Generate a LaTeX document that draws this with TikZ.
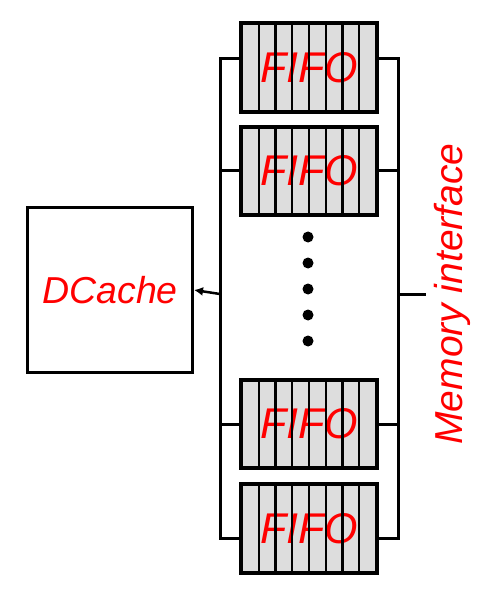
\documentclass[tikz,border=0pt]{standalone}
\usepackage{fontspec}
\setmainfont{Liberation Sans}
\usetikzlibrary{arrows.meta}

\definecolor{fifogray}{HTML}{DDDDDD}
\definecolor{labelred}{HTML}{FF0000}

\tikzset{
	fifo/.style={draw, line width=2.8pt, fill=fifogray, minimum width=134pt, minimum height=87pt, inner sep=0pt,
		text=labelred, font=\itshape\fontsize{43}{43}\selectfont},
	cell/.style={line width=2.2pt},
	wire/.style={line width=3pt},
}

\begin{document}
\begin{tikzpicture}[x=1pt, y=-1pt]
	\useasboundingbox (0,0) rectangle (484,609);
	\node[fifo] (f1) at (309, 67.5) {FIFO};
	\node[fifo] (f2) at (309, 171) {FIFO};
	\node[fifo] (f3) at (309, 424) {FIFO};
	\node[fifo] (f4) at (309, 528.5) {FIFO};
		\draw[cell] (258.75,24) -- (258.75,111) (275.5,24) -- (275.5,111) (292.25,24) -- (292.25,111) (309,24) -- (309,111)
			(325.75,24) -- (325.75,111) (342.5,24) -- (342.5,111) (359.25,24) -- (359.25,111);
		\draw[cell] (258.75,127.5) -- (258.75,214.5) (275.5,127.5) -- (275.5,214.5) (292.25,127.5) -- (292.25,214.5) (309,127.5) -- (309,214.5)
			(325.75,127.5) -- (325.75,214.5) (342.5,127.5) -- (342.5,214.5) (359.25,127.5) -- (359.25,214.5);
		\draw[cell] (258.75,380.5) -- (258.75,467.5) (275.5,380.5) -- (275.5,467.5) (292.25,380.5) -- (292.25,467.5) (309,380.5) -- (309,467.5)
			(325.75,380.5) -- (325.75,467.5) (342.5,380.5) -- (342.5,467.5) (359.25,380.5) -- (359.25,467.5);
		\draw[cell] (258.75,485) -- (258.75,572) (275.5,485) -- (275.5,572) (292.25,485) -- (292.25,572) (309,485) -- (309,572)
			(325.75,485) -- (325.75,572) (342.5,485) -- (342.5,572) (359.25,485) -- (359.25,572);
		\draw[fifo, fill=none] (f1.south west) rectangle (f1.north east);
		\draw[fifo, fill=none] (f2.south west) rectangle (f2.north east);
		\draw[fifo, fill=none] (f3.south west) rectangle (f3.north east);
		\draw[fifo, fill=none] (f4.south west) rectangle (f4.north east);
	\node[draw, line width=3pt, minimum width=165pt, minimum height=165pt, inner sep=0pt,
		text=labelred, font=\itshape\fontsize{37.5}{37.5}\selectfont] (dc) at (110, 290) {DCache};
	\node[rotate=90, anchor=base, text=labelred, font=\itshape\fontsize{39}{39}\selectfont] (mem) at (462, 294) {Memory interface};
	% bus lines
	\coordinate (l1) at (220, 59);
	\coordinate (l2) at (220, 171);
	\coordinate (lm) at (220, 294);
	\coordinate (l3) at (220, 424);
	\coordinate (l4) at (220, 538);
	\coordinate (r1) at (398, 59);
	\coordinate (r2) at (398, 171);
	\coordinate (rm) at (398, 294);
	\coordinate (r3) at (398, 424);
	\coordinate (r4) at (398, 538);
	\coordinate (rs) at (426, 294);
	\draw[wire] (f1.west |- l1) -- (l1) -- (l4) -- (f4.west |- l4);
	\draw[wire] (f2.west |- l2) -- (l2);
	\draw[wire] (f3.west |- l3) -- (l3);
	\draw[wire] (f1.east |- r1) -- (r1) -- (r4) -- (f4.east |- r4);
	\draw[wire] (f2.east |- r2) -- (r2);
	\draw[wire] (f3.east |- r3) -- (r3);
	\draw[line width=2.5pt, -{Latex[length=9pt, width=9pt]}] (lm) -- (dc.east);
	\draw[wire] (rm) -- (rs);
	% dots
	\fill (308, 237) circle (5.5pt);
	\fill (308, 263) circle (5.5pt);
	\fill (308, 289) circle (5.5pt);
	\fill (308, 315) circle (5.5pt);
	\fill (308, 341) circle (5.5pt);
\end{tikzpicture}
\end{document}
